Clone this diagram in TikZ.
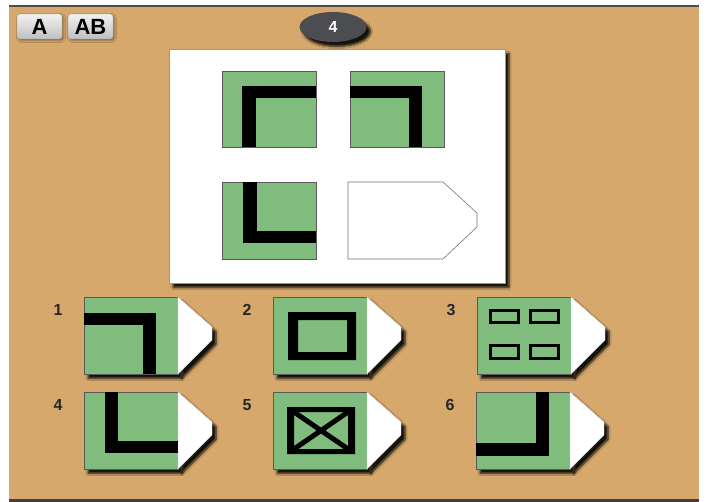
\documentclass[tikz,border=0pt]{standalone}
\usepackage{fontspec}
\setmainfont{Liberation Sans}
\usetikzlibrary{calc,shapes.geometric,shadows.blur}
\definecolor{deskbrown}{HTML}{D6A86C}
\definecolor{tilegreen}{HTML}{7FBC7E}
\definecolor{pillgray}{HTML}{4B4D50}
\tikzset{
  tile/.style = {draw = black!65, fill = tilegreen, line width = .8pt,
                 minimum width = 94pt, minimum height = 76pt,
                 inner sep = 0pt, outer sep = 0pt, anchor = north west},
  pointer/.style = {draw = black!20, fill = white, line width = .4pt},
  num/.style = {font = \fontsize{16}{16}\selectfont\bfseries, text = black!85},
  shade/.style = {blur shadow = {shadow xshift = 4pt, shadow yshift = -4.5pt,
                  shadow opacity = 90, shadow blur steps = 6}},
  keybtn/.style = {rounded corners = 3pt, top color = gray!10, bottom color = gray!50,
                   draw = gray!70, minimum width = 45pt, minimum height = 25pt,
                   inner sep = 0pt, font = \fontsize{22}{22}\selectfont\bfseries,
                   blur shadow = {shadow xshift = 1.5pt, shadow yshift = -1.5pt}}
}
\begin{document}
\begin{tikzpicture}[x = 1pt, y = -1pt]
  \useasboundingbox (0,0) rectangle (708,502);
  \fill [white] (0,0) rectangle (708,502);
  \fill [deskbrown] (9,5) rectangle (699,502);
  \fill [black!70] (9,5) rectangle (699,7.5);
  \fill [black!75] (9,499) rectangle (699,502);

  % top bar
  \node [keybtn] (btnA) at (39.5,26.5) {A};
  \node [keybtn] (btnAB) at (90.5,26.5) {AB};

  % puzzle board
  \node [draw = black!40, fill = white, minimum width = 336pt, minimum height = 234pt,
         inner sep = 0pt, shade] (board) at (337,166) {};
  \node [ellipse, fill = pillgray, minimum width = 67pt, minimum height = 30pt,
         text = white, font = \fontsize{16}{16}\selectfont\bfseries, shade]
    (qnum) at (333,27) {4};

  \node [tile] (q1) at (222,71) {};
  \begin{scope}[shift = {(q1.north west)}]
    \fill (20,15) rectangle (34,76);
    \fill (20,15) rectangle (94,27);
  \end{scope}
  \node [tile] (q2) at (350,71) {};
  \begin{scope}[shift = {(q2.north west)}]
    \fill (0,15) rectangle (72,27);
    \fill (59,15) rectangle (72,76);
  \end{scope}
  \node [tile, minimum height = 77pt] (q3) at (222,182) {};
  \begin{scope}[shift = {(q3.north west)}]
    \fill (21,0) rectangle (35,61);
    \fill (21,49) rectangle (94,61);
  \end{scope}
  \draw [black!55, fill = white, line width = .6pt]
    (348,182) -- (443,182) -- (477,213) -- (477,227) -- (443,259) -- (348,259) -- cycle;

  % answers
  \foreach \n/\x/\y in {1/84/297, 2/273/297, 3/477/297, 4/84/392, 5/273/392, 6/476/392} {
    \node [tile, minimum height = 77pt, shade] (o\n) at (\x,\y) {};
    \draw [pointer, shade] (o\n.north east) -- ++(34,30) -- ++(0,13) -- (o\n.south east) -- cycle;
    \node [num, anchor = center] (n\n) at ($(o\n.north west) + (-26,13)$) {\n};
  }
  \begin{scope}[shift = {(o1.north west)}]
    \fill (0,16) rectangle (72,28);
    \fill (59,16) rectangle (72,77);
  \end{scope}
  \begin{scope}[shift = {(o2.north west)}]
    \fill [even odd rule] (15,15) rectangle (83,63) (25,23) rectangle (74,55);
  \end{scope}
  \begin{scope}[shift = {(o3.north west)}, line width = 3pt]
    \draw (13.5,13) rectangle (41.5,25.5);
    \draw (53.5,13) rectangle (81,25.5);
    \draw (13.5,48.5) rectangle (41.5,61.5);
    \draw (53.5,48.5) rectangle (81,61.5);
  \end{scope}
  \begin{scope}[shift = {(o4.north west)}]
    \fill (21,0) rectangle (34,61);
    \fill (21,49) rectangle (94,61);
  \end{scope}
  \begin{scope}[shift = {(o5.north west)}]
    \fill [even odd rule] (14,15) rectangle (82,62) (21,20) rectangle (75,57);
    \clip (21,20) rectangle (75,57);
    \draw [line width = 5pt] (21,20) -- (75,57) (21,57) -- (75,20);
  \end{scope}
  \begin{scope}[shift = {(o6.north west)}]
    \fill (60,0) rectangle (73,64);
    \fill (0,51) rectangle (73,64);
  \end{scope}
\end{tikzpicture}
\end{document}
